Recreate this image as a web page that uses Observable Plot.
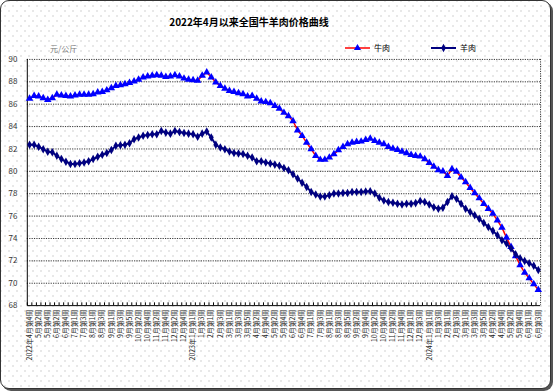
<!DOCTYPE html>
<html><head><meta charset="utf-8">
<script src="https://cdn.jsdelivr.net/npm/d3@7"></script>
<script src="https://cdn.jsdelivr.net/npm/@observablehq/plot@0.6"></script>
<style>
body{margin:0;width:554px;height:392px;overflow:hidden;background:#fff;font-family:"Noto Sans CJK SC","Noto Sans",sans-serif;}
#chart{position:absolute;left:0;top:0;width:551px;height:389px;box-sizing:border-box;border:1px solid #333;border-radius:9px;box-shadow:2px 2px 0 #555;
background-color:#fff;
background-image:radial-gradient(circle,#cccccc 0.6px,transparent 0.8px),radial-gradient(circle,#cccccc 0.6px,transparent 0.8px);
background-size:8px 10px;background-position:0 0,4px 5px;}
#title{position:absolute;left:148px;top:14px;width:200px;text-align:center;font-size:10px;font-weight:bold;line-height:14px;white-space:nowrap;}
#unit{position:absolute;left:49px;top:42px;font-size:8px;color:#777;line-height:12px;}
.leg{position:absolute;top:41px;height:12px;display:flex;align-items:center;font-size:8px;line-height:12px;}
#plot{position:absolute;left:-1px;top:49px;}
</style></head>
<body>
<div id="chart">
  <div id="title">2022年4月以来全国牛羊肉价格曲线</div>
  <div id="unit">元/公斤</div>
  <div class="leg" id="leg0" style="left:343px"></div>
  <div class="leg" id="leg1" style="left:429px"></div>
  <div id="plot"></div>
</div>
<script>
const weeks = [
"2022年4月第4周","5月第1周","5月第2周","5月第3周","5月第4周","6月第1周","6月第2周","6月第3周","6月第4周","6月第5周",
"7月第1周","7月第2周","7月第3周","7月第4周","8月第1周","8月第2周","8月第3周","8月第4周","9月第1周","9月第2周",
"9月第3周","9月第4周","9月第5周","10月第1周","10月第2周","10月第3周","10月第4周","11月第1周","11月第2周","11月第3周",
"11月第4周","12月第1周","12月第2周","12月第3周","12月第4周","12月第5周","2023年1月第1周","1月第2周","1月第3周","1月第4周",
"2月第1周","2月第2周","2月第3周","2月第4周","3月第1周","3月第2周","3月第3周","3月第4周","3月第5周","4月第1周",
"4月第2周","4月第3周","4月第4周","5月第1周","5月第2周","5月第3周","5月第4周","6月第1周","6月第2周","6月第3周",
"6月第4周","6月第5周","7月第1周","7月第2周","7月第3周","7月第4周","8月第1周","8月第2周","8月第3周","8月第4周",
"8月第5周","9月第1周","9月第2周","9月第3周","9月第4周","10月第1周","10月第2周","10月第3周","10月第4周","11月第1周",
"11月第2周","11月第3周","11月第4周","11月第5周","12月第1周","12月第2周","12月第3周","12月第4周","2024年1月第1周","1月第2周",
"1月第3周","1月第4周","2月第1周","2月第2周","2月第3周","2月第4周","3月第1周","3月第2周","3月第3周","3月第4周",
"3月第5周","4月第1周","4月第2周","4月第3周","4月第4周","5月第1周","5月第2周","5月第3周","5月第4周","5月第5周",
"6月第1周","6月第2周","6月第3周"
];
const beef = [
86.5,86.75,86.7,86.55,86.4,86.55,86.85,86.8,86.75,86.7,
86.8,86.85,86.85,86.85,86.9,87.05,87.1,87.25,87.45,87.65,
87.7,87.8,87.9,88.05,88.2,88.4,88.5,88.55,88.6,88.55,
88.45,88.5,88.6,88.5,88.3,88.2,88.15,88.1,88.55,88.85,
88.4,87.95,87.65,87.4,87.2,87.1,87.0,86.9,86.7,86.75,
86.5,86.25,86.2,86.1,85.85,
85.6,85.24,84.94,84.5,83.67,83.17,82.57,81.98,81.39,81.04,
81.04,81.24,81.54,81.9,82.19,82.43,82.57,82.64,82.67,82.81,
82.93,82.72,82.57,82.43,82.19,82.04,81.93,81.77,81.63,81.48,
81.39,81.33,81.1,80.75,80.42,80.12,80.0,79.6,80.21,79.97,
79.47,
79.03,78.53,78.05,77.6,77.1,76.66,76.22,75.62,74.97,74.08,
73.25,72.43,71.63,70.95,70.45,69.92,69.41
];
const mutton = [
82.37,82.37,82.19,81.98,81.75,81.7,81.39,81.1,80.86,80.66,
80.66,80.72,80.8,80.9,81.1,81.3,81.48,81.63,81.9,82.28,
82.33,82.37,82.52,82.87,83.02,83.17,83.25,83.31,83.31,83.6,
83.46,83.37,83.6,83.52,83.43,83.37,83.31,83.1,83.37,83.55,
83.02,82.37,82.13,81.98,81.77,81.63,81.6,81.54,81.39,81.24,
80.9,80.9,80.8,80.7,80.6,
80.5,80.3,80.09,79.73,79.35,78.99,78.6,78.16,77.92,77.76,
77.76,77.87,78.02,78.02,78.07,78.07,78.16,78.16,78.16,78.2,
78.22,78.02,77.63,77.4,77.25,77.19,77.1,77.04,77.1,77.1,
77.16,77.34,77.25,77.04,76.8,76.66,76.75,77.25,77.78,77.55,
77.1,76.66,76.36,76.07,75.77,75.39,75.03,74.68,74.29,73.85,
73.55,73.11,72.6,72.23,71.99,71.78,71.57,71.19
];
const yTicks = [68,70,72,74,76,78,80,82,84,86,88,90];
const seriesNames = ["牛肉","羊肉"];
const lineColors = ["#ff0000","#000080"];
const markColors = ["#0000ff","#000080"];
const markSymbols = ["triangle","diamond"];

const idx = d3.range(weeks.length);
const half = 518 / weeks.length / 2;

const plot = Plot.plot({
  width: 554, height: 342,
  marginTop: 9, marginBottom: 85, marginLeft: 27, marginRight: 10,
  style: {background: "transparent", fontFamily: '"Noto Sans CJK SC","Noto Sans",sans-serif', color: "#000", overflow: "visible"},
  x: {type: "point", domain: idx, padding: 0.5, axis: null},
  y: {domain: [68, 90], axis: null},
  marks: [
    Plot.ruleY(yTicks.filter(v => v > 68), {stroke: "#333", strokeDasharray: "1.2,1.2", strokeWidth: 1}),
    Plot.ruleX([idx.length - 1], {dx: half, stroke: "#333", strokeDasharray: "1.2,1.2"}),
    Plot.ruleX(idx, {x: d => d, y1: 68, y2: 68.25, dx: -half, stroke: "#000"}),
    Plot.ruleY([68], {stroke: "#000"}),
    Plot.ruleX([0], {dx: -half, stroke: "#000"}),
    Plot.axisY({ticks: yTicks, tickSize: 0, tickPadding: 10, fontSize: 8, color: "#333"}),
    Plot.axisX({ticks: idx.filter(i => i % 2 === 0), tickFormat: i => weeks[i], tickSize: 0, tickPadding: 4, tickRotate: -90, fontSize: 7, color: "#222"}),
    Plot.line(idx, {x: i => i, y: i => beef[i], stroke: lineColors[0], strokeWidth: 1.5}),
    Plot.dot(idx, {x: i => i, y: i => beef[i], symbol: markSymbols[0], r: 2.8, fill: markColors[0]}),
    Plot.line(idx, {x: i => i, y: i => mutton[i], stroke: lineColors[1], strokeWidth: 2}),
    Plot.dot(idx, {x: i => i, y: i => mutton[i], symbol: markSymbols[1], r: 2.6, fill: markColors[1]})
  ]
});
document.getElementById("plot").appendChild(plot);

// legend
seriesNames.forEach((name, k) => {
  const el = document.getElementById("leg" + k);
  const sym = d3.symbol(k === 0 ? d3.symbolTriangle : d3.symbolDiamond, k === 0 ? 22 : 20)();
  el.innerHTML = `<svg width="27" height="10" style="margin-right:3px"><line x1="1" x2="26" y1="5" y2="5" stroke="${lineColors[k]}" stroke-width="${k===0?1.5:2}"/><path d="${sym}" transform="translate(13.5,5)" fill="${markColors[k]}"/></svg><span>${name}</span>`;
});
</script>
</body></html>
